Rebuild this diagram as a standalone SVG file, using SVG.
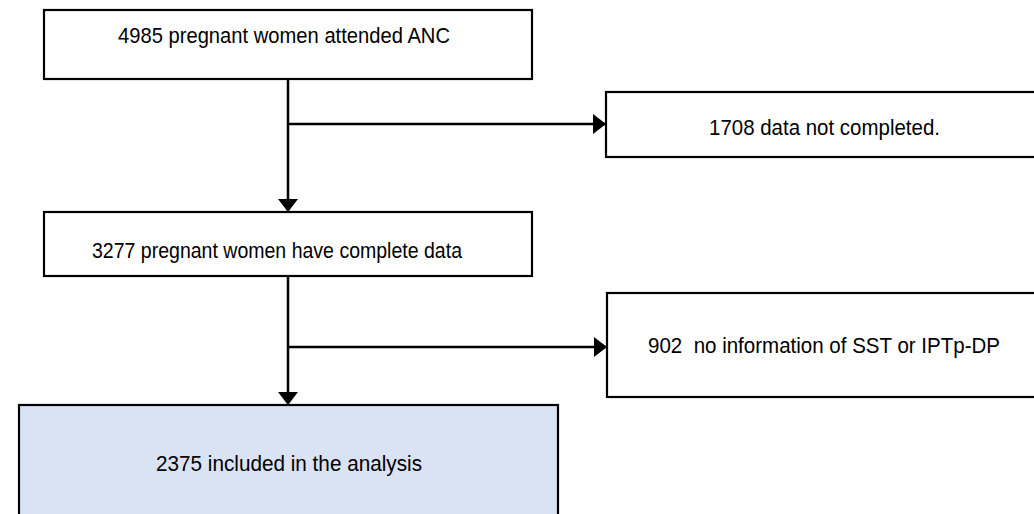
<svg xmlns="http://www.w3.org/2000/svg" width="1034" height="514" viewBox="0 0 1034 514">
<style>
.box{fill:#ffffff;stroke:#000000;stroke-width:2.2}
.fin{fill:#dae3f3;stroke:#000000;stroke-width:2.2}
.t{font-family:"Liberation Sans Narrow","Liberation Sans",Arial,sans-serif;font-size:22.5px;fill:#000000}
.c{fill:none;stroke:#000000;stroke-width:2.5}
</style>
<defs>
<marker id="ah" markerUnits="userSpaceOnUse" markerWidth="14" markerHeight="22" refX="13" refY="11" orient="auto">
<path d="M0,1 L13,11 L0,21 Z" fill="#000000"/>
</marker>
</defs>
<rect width="1034" height="514" fill="#ffffff"/>
<g id="connectors">
<path class="c" d="M288,79 V212" marker-end="url(#ah)"/>
<path class="c" d="M288,124 H606" marker-end="url(#ah)"/>
<path class="c" d="M288,276 V405" marker-end="url(#ah)"/>
<path class="c" d="M288,347 H607" marker-end="url(#ah)"/>
</g>
<g id="n1">
<rect class="box" x="44" y="10" width="488" height="69"/>
<text class="t" x="118" y="43" textLength="332" lengthAdjust="spacingAndGlyphs">4985 pregnant women attended ANC</text>
</g>
<g id="n2">
<rect class="box" x="606" y="92" width="440" height="65"/>
<text class="t" x="709" y="135" textLength="231" lengthAdjust="spacingAndGlyphs">1708 data not completed.</text>
</g>
<g id="n3">
<rect class="box" x="44" y="212" width="488" height="64"/>
<text class="t" x="92" y="258" textLength="370" lengthAdjust="spacingAndGlyphs">3277 pregnant women have complete data</text>
</g>
<g id="n4">
<rect class="box" x="607" y="293" width="440" height="104"/>
<text class="t" x="648" y="353" textLength="352" lengthAdjust="spacingAndGlyphs" xml:space="preserve">902  no information of SST or IPTp-DP</text>
</g>
<g id="n5">
<rect class="fin" x="19" y="405" width="539" height="120"/>
<text class="t" x="156" y="471" textLength="266" lengthAdjust="spacingAndGlyphs">2375 included in the analysis</text>
</g>
</svg>
